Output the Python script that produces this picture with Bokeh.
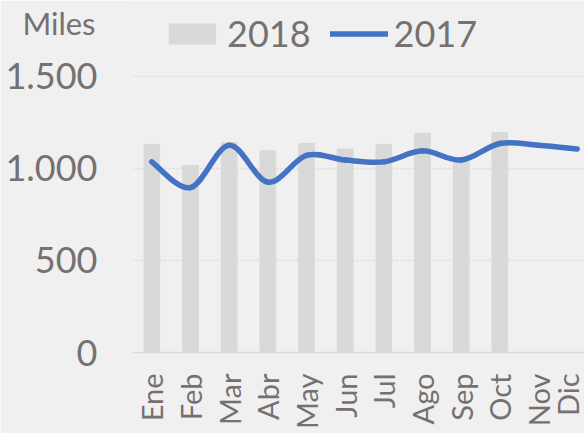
import math
from bokeh.plotting import figure
from bokeh.models import Range1d, FixedTicker, Legend, LegendItem, LinearAxis
from bokeh.embed import file_html
from bokeh.resources import INLINE

months = ["Ene", "Feb", "Mar", "Abr", "May", "Jun", "Jul", "Ago", "Sep", "Oct", "Nov", "Dic"]
sales_2018 = [1130, 1015, 1140, 1095, 1135, 1105, 1130, 1190, 1040, 1195]
sales_2017 = [1035, 895, 1125, 925, 1070, 1045, 1035, 1095, 1045, 1135, 1125, 1105]
y_ticks = [0, 500, 1000, 1500]
y_tick_labels = ["0", "500", "1.000", "1.500"]
unit_label = "Miles"

TXT = "#767171"
FONT = "Lato"
BG = "#f0f0f0"
Y_MAX = 1911
UNIT_POS = 1789

p = figure(width=584, height=433, output_backend="svg", toolbar_location=None,
           title=None,
           x_range=Range1d(-0.5, 11.19), y_range=Range1d(0, Y_MAX),
           min_border_left=132, min_border_right=0, min_border_top=0,
           min_border_bottom=81)
p.background_fill_color = BG
p.border_fill_color = BG
p.outline_line_color = None

# bars 2018
xb = list(range(len(sales_2018)))
bars = p.vbar(x=xb, top=sales_2018, width=0.405, color="#d9d9d9")

# smoothed line 2017 (Catmull-Rom -> cubic Bezier)
n = len(sales_2017)
xs = list(range(n))
ys = sales_2017
x0, y0, x1, y1, cx0, cy0, cx1, cy1 = [], [], [], [], [], [], [], []
for i in range(n - 1):
    im = max(i - 1, 0)
    ip2 = min(i + 2, n - 1)
    x0.append(xs[i]); y0.append(ys[i])
    x1.append(xs[i + 1]); y1.append(ys[i + 1])
    cx0.append(xs[i] + (xs[i + 1] - xs[im]) / 6.0)
    cy0.append(ys[i] + (ys[i + 1] - ys[im]) / 6.0)
    cx1.append(xs[i + 1] - (xs[ip2] - xs[i]) / 6.0)
    cy1.append(ys[i + 1] - (ys[ip2] - ys[i]) / 6.0)
p.bezier(x0=x0, y0=y0, x1=x1, y1=y1, cx0=cx0, cy0=cy0, cx1=cx1, cy1=cy1,
         line_color="#4472c4", line_width=5.5, line_cap="round")
# one-point line: draws nothing in the plot, only provides the legend swatch
leg_line = p.line(x=[xs[-1]], y=[ys[-1]], line_color="#4472c4", line_width=5.5,
                  line_cap="round")

# axes
p.xaxis.ticker = FixedTicker(ticks=list(range(len(months))))
p.xaxis.major_label_overrides = {i: m for i, m in enumerate(months)}
p.xaxis.major_label_orientation = math.pi / 2
p.xaxis.major_tick_line_color = None
p.xaxis.major_tick_out = 0
p.xaxis.minor_tick_line_color = None
p.xaxis.minor_tick_out = 0
p.xaxis.axis_line_color = "#d9d9d9"
p.xaxis.axis_line_width = 1.5
p.xaxis.major_label_standoff = 21
p.xaxis.major_label_text_font = FONT
p.xaxis.major_label_text_font_size = "29px"
p.xaxis.major_label_text_color = TXT

p.yaxis.ticker = FixedTicker(ticks=y_ticks)
p.yaxis.major_label_overrides = {t: l for t, l in zip(y_ticks, y_tick_labels)}
p.yaxis.major_tick_line_color = None
p.yaxis.major_tick_out = 0
p.yaxis.minor_tick_line_color = None
p.yaxis.minor_tick_out = 0
p.yaxis.axis_line_color = None
p.yaxis.major_label_standoff = 35
p.yaxis.major_label_text_font = FONT
p.yaxis.major_label_text_font_size = "36px"
p.yaxis.major_label_text_color = TXT

# unit caption "Miles" above the value labels, as a one-tick axis
unit_axis = LinearAxis(ticker=FixedTicker(ticks=[UNIT_POS]),
                       major_label_overrides={UNIT_POS: unit_label},
                       axis_line_color=None, major_tick_line_color=None,
                       minor_tick_line_color=None, major_tick_out=0, minor_tick_out=0,
                       major_label_standoff=-93,
                       major_label_text_font=FONT, major_label_text_font_size="31px",
                       major_label_text_color=TXT)
p.add_layout(unit_axis, "left")

p.xgrid.grid_line_color = None
p.ygrid.ticker = FixedTicker(ticks=[500, 1000, 1500])
p.ygrid.grid_line_color = "#d9d9d9"
p.ygrid.grid_line_width = 1.3
p.ygrid.grid_line_dash = "2 2"

legend = Legend(items=[LegendItem(label="2018", renderers=[bars]),
                       LegendItem(label="2017", renderers=[leg_line])],
                orientation="horizontal", location=(31, 297),
                glyph_width=58, glyph_height=25, label_standoff=6, spacing=19,
                padding=0, margin=0, border_line_alpha=0, background_fill_alpha=0,
                label_text_font=FONT, label_text_font_size="36px",
                label_text_color=TXT)
p.add_layout(legend)

html = file_html(p, INLINE)
html = html.replace("<body>", '<body style="background:#f0f0f0">', 1)
open("out.html", "w").write(html)
